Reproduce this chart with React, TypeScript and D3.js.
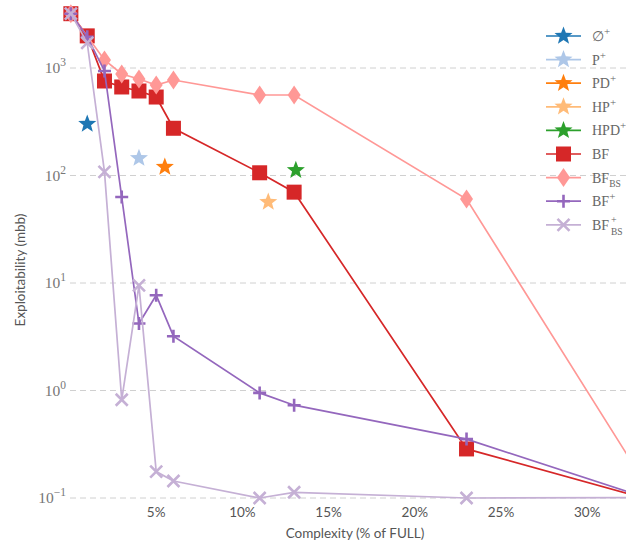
import React from "react";
import * as d3 from "d3";

// ---- data ----
const complexity = [0.05, 1, 2, 3, 4, 5, 6, 11, 13, 23, 35];
const bfValues = [3200, 1990, 757, 666, 611, 537, 275, 106, 70, 0.286, 0.084];
const bfBsValues = [3200, NaN, 1187, 880, 790, 695, 773, 561, 561, 60.4, 0.052];
const bfPlusValues = [3200, 1950, 938, 63, 4.2, 7.7, 3.2, 0.95, 0.73, 0.353, 0.083];
const bfBsPlusValues = [3200, 1710, 108, 0.82, 9.5, 0.176, 0.144, 0.1, 0.113, 0.1, 0.101];

const starNames = ["empty", "P", "PD", "HP", "HPD"];
const starX = [1, 4, 5.5, 11.5, 13.1];
const starY = [301, 145, 120, 56.6, 112];

const xTicks = [5, 10, 15, 20, 25, 30];
const yTickExps = [-1, 0, 1, 2, 3];

const starColors = ["#1f77b4", "#aec7e8", "#ff7f0e", "#ffbb78", "#2ca02c"];
const lineColors = ["#d62728", "#ff9896", "#9467bd", "#c5b0d5"];

const W = 626;
const H = 546;

const x = d3.scaleLinear().domain([0, 32.25]).range([70, 626]);
const y = d3.scaleLog().domain([0.1, 1000]).range([498, 68]);

function starPath(cx: number, cy: number, R: number) {
  const r = R * 0.42;
  const pts: [number, number][] = [];
  for (let i = 0; i < 10; i++) {
    const a = -Math.PI / 2 + (i * Math.PI) / 5;
    const rr = i % 2 === 0 ? R : r;
    pts.push([cx + rr * Math.cos(a), cy + rr * Math.sin(a)]);
  }
  return "M" + pts.map((p) => p.join(",")).join("L") + "Z";
}

function Marker({ kind, cx, cy, color }: { kind: string; cx: number; cy: number; color: string }) {
  if (kind === "star") return <path d={starPath(cx, cy, 9.5)} fill={color} />;
  if (kind === "square")
    return <rect x={cx - 7.5} y={cy - 7.5} width={15} height={15} fill={color} />;
  if (kind === "diamond")
    return (
      <path
        d={`M${cx},${cy - 9.5}L${cx + 6.5},${cy}L${cx},${cy + 9.5}L${cx - 6.5},${cy}Z`}
        fill={color}
      />
    );
  if (kind === "plus")
    return (
      <path
        d={`M${cx - 6.5},${cy}H${cx + 6.5}M${cx},${cy - 6.5}V${cy + 6.5}`}
        stroke={color}
        strokeWidth={2.6}
      />
    );
  return (
    <path
      d={`M${cx - 6},${cy - 6}L${cx + 6},${cy + 6}M${cx - 6},${cy + 6}L${cx + 6},${cy - 6}`}
      stroke={color}
      strokeWidth={2.6}
    />
  );
}

const seriesDefs = [
  { key: "BF", values: bfValues, kind: "square" },
  { key: "BFBS", values: bfBsValues, kind: "diamond" },
  { key: "BFp", values: bfPlusValues, kind: "plus" },
  { key: "BFBSp", values: bfBsPlusValues, kind: "x" },
];

const serif = "'Liberation Serif', 'DejaVu Serif', serif";
const sans = "Lato, 'Open Sans', sans-serif";

function LegendLabel({ i, lx, ly }: { i: number; lx: number; ly: number }) {
  const common = { x: lx, y: ly + 5, fontFamily: serif, fontSize: 14, fill: "#666" };
  const sup = (t: string) => (
    <tspan dy={-6} fontSize={11}>
      {t}
    </tspan>
  );
  switch (i) {
    case 0:
      return <text {...common}>∅{sup("+")}</text>;
    case 1:
      return <text {...common}>P{sup("+")}</text>;
    case 2:
      return <text {...common}>PD{sup("+")}</text>;
    case 3:
      return <text {...common}>HP{sup("+")}</text>;
    case 4:
      return <text {...common}>HPD{sup("+")}</text>;
    case 5:
      return <text {...common}>BF</text>;
    case 6:
      return (
        <text {...common}>
          BF
          <tspan dy={4} fontSize={9.5}>
            BS
          </tspan>
        </text>
      );
    case 7:
      return <text {...common}>BF{sup("+")}</text>;
    default:
      return (
        <g>
          <text {...common}>BF</text>
          <text x={lx + 19} y={ly - 2} fontFamily={serif} fontSize={10} fill="#666">
            +
          </text>
          <text x={lx + 19} y={ly + 10} fontFamily={serif} fontSize={9.5} fill="#666">
            BS
          </text>
        </g>
      );
  }
}

export default function App() {
  const line = d3
    .line<[number, number]>()
    .x((d) => x(d[0]))
    .y((d) => y(d[1]));

  const xMax = x.domain()[1];

  const legendItems = [
    ...starColors.map((c) => ({ color: c, kind: "star", line: c })),
    ...seriesDefs.map((s, i) => ({ color: lineColors[i], kind: s.kind, line: lineColors[i] })),
  ];

  return (
    <svg
      width={W}
      height={H}
      style={{ position: "absolute", left: 0, top: 0, background: "#fff" }}
    >
      {/* grid */}
      {yTickExps.map((e) => (
        <line
          key={e}
          x1={70}
          x2={W}
          y1={y(Math.pow(10, e))}
          y2={y(Math.pow(10, e))}
          stroke="#d0d0d0"
          strokeWidth={1}
          strokeDasharray="6,4"
        />
      ))}
      {/* y tick labels */}
      {yTickExps.map((e) => (
        <text
          key={e}
          x={66}
          y={y(Math.pow(10, e)) + 5}
          textAnchor="end"
          fontFamily={serif}
          fontSize={15.5}
          fill="#777"
        >
          10
          <tspan dy={-7} fontSize={11.5}>
            {e < 0 ? "\u2212" + Math.abs(e) : String(e)}
          </tspan>
        </text>
      ))}
      {/* x tick labels */}
      {xTicks.map((t) => (
        <text
          key={t}
          x={x(t)}
          y={517}
          textAnchor="middle"
          fontFamily={sans}
          fontSize={13.5}
          fill="#555"
        >
          {t}%
        </text>
      ))}
      <text x={355} y={538} textAnchor="middle" fontFamily={sans} fontSize={13.5} fill="#555">
        Complexity (% of FULL)
      </text>
      <text
        transform="translate(25,270) rotate(-90)"
        textAnchor="middle"
        fontFamily={sans}
        fontSize={13.5}
        fill="#555"
      >
        Exploitability (mbb)
      </text>

      {/* stars */}
      {starNames.map((n, i) => (
        <Marker key={n} kind="star" cx={x(starX[i])} cy={y(starY[i])} color={starColors[i]} />
      ))}

      {/* series */}
      {seriesDefs.map((s, si) => {
        const pts: [number, number][] = complexity
          .map((c, i) => [c, s.values[i]] as [number, number])
          .filter((p) => !isNaN(p[1]));
        return (
          <g key={s.key}>
            <path d={line(pts) || ""} fill="none" stroke={lineColors[si]} strokeWidth={1.7} />
            {pts
              .filter((p) => p[0] <= xMax)
              .map((p, i) => (
                <Marker key={i} kind={s.kind} cx={x(p[0])} cy={y(p[1])} color={lineColors[si]} />
              ))}
          </g>
        );
      })}

      {/* legend */}
      {legendItems.map((it, i) => {
        const ly = 36 + i * 23.6;
        return (
          <g key={i}>
            <line x1={546} x2={581} y1={ly} y2={ly} stroke={it.line} strokeWidth={1.7} />
            <Marker kind={it.kind} cx={563.5} cy={ly} color={it.color} />
            <LegendLabel i={i} lx={592} ly={ly} />
          </g>
        );
      })}
    </svg>
  );
}
